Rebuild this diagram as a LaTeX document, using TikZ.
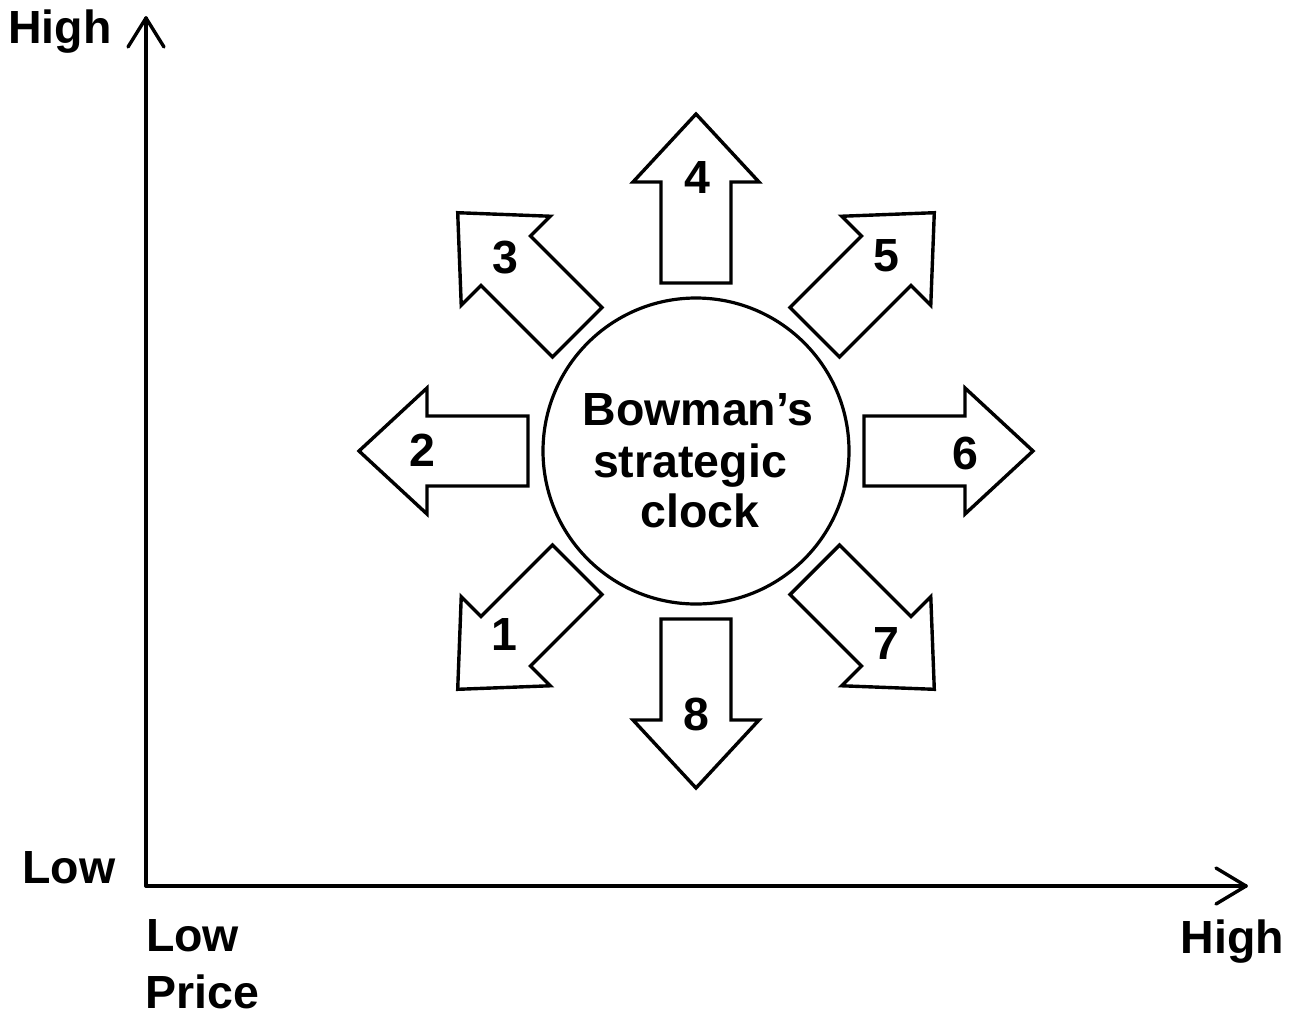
\documentclass[tikz,border=0pt]{standalone}
\usepackage{fontspec}
\setmainfont{Liberation Sans}
\usetikzlibrary{calc}
\begin{document}
\begin{tikzpicture}[x=1pt,y=-1pt,
  axisline/.style={line width=3.4pt,line cap=round,line join=round},
  arrowline/.style={line width=3.4pt,line join=miter,fill=white},
  lbl/.style={font=\fontsize{46.5}{52}\selectfont\bfseries,inner sep=0pt},
  clockarrow/.pic={\draw[arrowline] (168,-35) -- (269,-35) -- (269,-63) -- (337,0) -- (269,63) -- (269,35) -- (168,35) -- cycle;}]
\useasboundingbox (0,0) rectangle (1298,1021);
% axes
\coordinate (O) at (146,886);
\coordinate (ytip) at (146,18);
\coordinate (xtip) at (1246,886);
\draw[axisline] (O) -- (ytip);
\draw[axisline] (O) -- (xtip);
\draw[axisline] ($(ytip)+(-18,29)$) -- (ytip) -- ($(ytip)+(18,29)$);
\draw[axisline] ($(xtip)+(-30,-18)$) -- (xtip) -- ($(xtip)+(-30,18)$);
% axis labels
\node[lbl,anchor=base] (yhigh) at (60,43) {High};
\node[lbl,anchor=base] (ylow) at (69,883) {Low};
\node[lbl,anchor=base] (xlow) at (192.5,951) {Low};
\node[lbl,anchor=base] (price) at (202.5,1008) {Price};
\node[lbl,anchor=base] (xhigh) at (1232.5,953) {High};
% clock
\coordinate (C) at (696,451);
\node[circle,draw,line width=3.2pt,minimum size=306pt,inner sep=0pt] (clock) at (C) {};
\node[lbl,anchor=base] (t1) at (698,425) {Bowman’s};
\node[lbl,anchor=base] (t2) at (690,477) {strategic};
\node[lbl,anchor=base] (t3) at (700,527) {clock};
% arrows
\pic[rotate=225] (arr1) at (C) {clockarrow};
\pic[rotate=180] (arr2) at (C) {clockarrow};
\pic[rotate=135] (arr3) at (C) {clockarrow};
\pic[rotate=90] (arr4) at (C) {clockarrow};
\pic[rotate=45] (arr5) at (C) {clockarrow};
\pic[rotate=0] (arr6) at (C) {clockarrow};
\pic[rotate=-45] (arr7) at (C) {clockarrow};
\pic[rotate=-90] (arr8) at (C) {clockarrow};
% numbers
\node[lbl] (n1) at (504,634) {1};
\node[lbl] (n2) at (422,450) {2};
\node[lbl] (n3) at (505,258) {3};
\node[lbl] (n4) at (697,177) {4};
\node[lbl] (n5) at (886,256) {5};
\node[lbl] (n6) at (965,453) {6};
\node[lbl] (n7) at (886,643) {7};
\node[lbl] (n8) at (696,714) {8};
\end{tikzpicture}
\end{document}
